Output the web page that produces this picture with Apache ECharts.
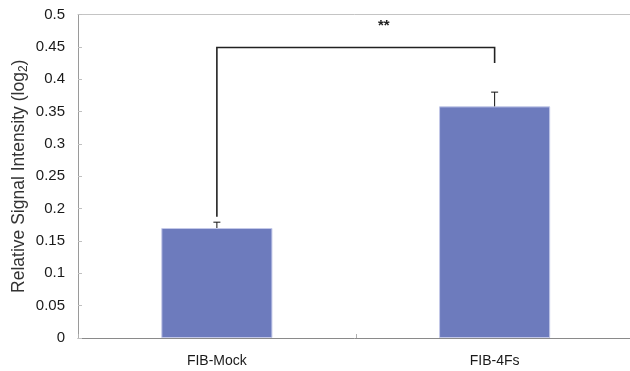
<!DOCTYPE html>
<html>
<head>
<meta charset="utf-8">
<script src="https://cdn.jsdelivr.net/npm/echarts@6/dist/echarts.min.js"></script>
<style>html,body{margin:0;padding:0;background:#fff;}#c{width:630px;height:371px;}</style>
</head>
<body>
<div id="c"></div>
<script>
var categories = ['FIB-Mock', 'FIB-4Fs'];
var means = [0.17, 0.358];
var errors = [0.009, 0.022];
var yTicks = [0, 0.05, 0.1, 0.15, 0.2, 0.25, 0.3, 0.35, 0.4, 0.45, 0.5];
var bracketLegBottoms = [0.1875, 0.425];
var bracketTop = 0.449;
var sigLabel = '**';
var sigLabelY = 0.482;

var chart = echarts.init(document.getElementById('c'), null, {renderer: 'canvas'});
var font = 'Liberation Sans, Arial, sans-serif';

chart.setOption({
  animation: false,
  grid: {left: 78, top: 14.5, width: 555.5, height: 323.5, containLabel: false, outerBoundsMode: 'none'},
  xAxis: [{
    type: 'category',
    data: categories,
    boundaryGap: true,
    axisLine: {lineStyle: {color: '#8a8a8a', width: 1}},
    axisTick: {show: true, inside: true, length: 4, lineStyle: {color: '#b0b0b0'}},
    axisLabel: {color: '#1a1a1a', fontSize: 14, fontFamily: font, margin: 16}
  }, {
    type: 'category',
    data: categories,
    position: 'top',
    axisLine: {lineStyle: {color: '#c4c4c4', width: 1}},
    axisTick: {show: false},
    axisLabel: {show: false}
  }],
  yAxis: {
    type: 'value',
    min: yTicks[0],
    max: yTicks[yTicks.length - 1],
    interval: 0.05,
    axisLine: {show: true, lineStyle: {color: '#9a9a9a', width: 1}},
    axisTick: {show: true, inside: true, length: 4, lineStyle: {color: '#c0c0c0'}},
    splitLine: {show: false},
    axisLabel: {color: '#1a1a1a', fontSize: 15, fontFamily: font, margin: 13,
      formatter: function (v) { return String(Math.round(v * 100) / 100); }},
    name: '{a|Relative Signal Intensity (log}{s|2}{a|)}',
    nameLocation: 'middle',
    nameGap: 48,
    nameMoveOverlap: false,
    nameRotate: 90,
    nameTextStyle: {
      rich: {
        a: {fontSize: 17.5, fontFamily: font, color: '#333', lineHeight: 22, verticalAlign: 'middle'},
        s: {fontSize: 12, fontFamily: font, color: '#333', lineHeight: 22, verticalAlign: 'bottom', padding: [10, 0, 0, 0]}
      }
    }
  },
  series: [{
    type: 'bar',
    data: means,
    barWidth: '40%',
    itemStyle: {color: '#6d7bbd', borderColor: '#c3c8e8', borderWidth: 1},
    z: 2
  }, {
    type: 'custom',
    data: means.map(function (m, i) { return [i, m, m + errors[i]]; }),
    renderItem: function (params, api) {
      var p0 = api.coord([api.value(0), api.value(1)]);
      var p1 = api.coord([api.value(0), api.value(2)]);
      var half = 3.5;
      return {
        type: 'group',
        children: [
          {type: 'line', shape: {x1: p0[0], y1: p0[1], x2: p1[0], y2: p1[1]}, style: {stroke: '#111', lineWidth: 1}},
          {type: 'line', shape: {x1: p1[0] - half, y1: p1[1], x2: p1[0] + half, y2: p1[1]}, style: {stroke: '#111', lineWidth: 1}}
        ]
      };
    },
    z: 3
  }, {
    type: 'custom',
    data: [[0, 1, bracketLegBottoms[0], bracketLegBottoms[1], bracketTop, sigLabelY]],
    renderItem: function (params, api) {
      var l0 = api.coord([api.value(0), api.value(2)]);
      var r0 = api.coord([api.value(1), api.value(3)]);
      var lt = api.coord([api.value(0), api.value(4)]);
      var rt = api.coord([api.value(1), api.value(4)]);
      var sy = api.coord([api.value(0), api.value(5)])[1];
      var mid = (lt[0] + rt[0]) / 2;
      return {
        type: 'group',
        children: [
          {type: 'polyline', shape: {points: [[l0[0], l0[1]], [lt[0], lt[1]], [rt[0], rt[1]], [r0[0], r0[1]]]},
            style: {stroke: '#222', lineWidth: 1.6, fill: null}},
          {type: 'text', style: {text: sigLabel, x: mid + 28, y: sy, align: 'center', verticalAlign: 'middle',
            fill: '#222', font: 'bold 15px Liberation Sans, Arial, sans-serif'}}
        ]
      };
    },
    z: 4
  }]
});
</script>
</body>
</html>
